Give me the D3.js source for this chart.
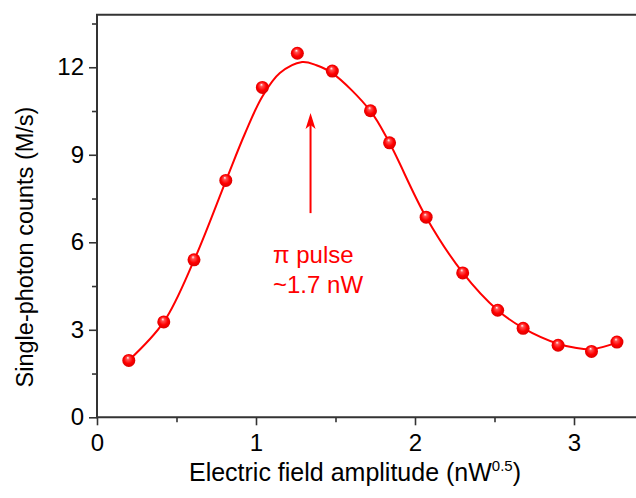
<!DOCTYPE html>
<html>
<head>
<meta charset="utf-8">
<script src="https://cdn.jsdelivr.net/npm/d3@7"></script>
<style>
  body { margin: 0; background: #fff; }
  svg { display: block; font-family: "Liberation Sans", Arial, sans-serif; }
</style>
</head>
<body>
<div id="vis"></div>
<script>
// measured single-photon counts vs electric field amplitude
var fieldX = [0.20, 0.42, 0.61, 0.81, 1.04, 1.26, 1.48, 1.72, 1.84, 2.07, 2.30, 2.52, 2.68, 2.90, 3.11, 3.27];
var countsY = [1.95, 3.27, 5.40, 8.12, 11.31, 12.48, 11.87, 10.51, 9.41, 6.86, 4.95, 3.67, 3.05, 2.47, 2.26, 2.58];

// fitted curve
var fitX = [0.20, 0.42, 0.61, 0.81, 0.93, 1.04, 1.15, 1.29, 1.38, 1.48, 1.72, 1.84, 2.07, 2.30, 2.52, 2.68, 2.90, 3.00, 3.11, 3.27];
var fitY = [1.95, 3.27, 5.38, 8.10, 9.72, 11.00, 11.80, 12.18, 12.07, 11.80, 10.50, 9.40, 6.86, 4.96, 3.67, 3.06, 2.52, 2.39, 2.33, 2.56];

var yTicks = [0, 3, 6, 9, 12];
var yMinor = [1.5, 4.5, 7.5, 10.5, 13.5];
var xTicks = [0, 1, 2, 3];
var xMinor = [0.5, 1.5, 2.5];

var width = 636, height = 498;
var svg = d3.select("#vis").append("svg")
  .attr("width", width)
  .attr("height", height);

var x = d3.scaleLinear().domain([0, 3.45]).range([97, 97 + 3.45 * 159]);
var y = d3.scaleLinear().domain([0, 13.8]).range([417.3, 417.3 - 13.8 * 29.17]);

var defs = svg.append("defs");
var grad = defs.append("radialGradient")
  .attr("id", "ball")
  .attr("cx", "50%").attr("cy", "50%").attr("r", "55%")
  .attr("fx", "42%").attr("fy", "28%");
grad.append("stop").attr("offset", "0%").attr("stop-color", "#ffffff");
grad.append("stop").attr("offset", "22%").attr("stop-color", "#ff5050");
grad.append("stop").attr("offset", "60%").attr("stop-color", "#ff0000");
grad.append("stop").attr("offset", "100%").attr("stop-color", "#d40000");

var axisColor = "#333";

// axes
var yAxis = svg.append("g")
  .attr("transform", "translate(" + x(0) + ",0)")
  .call(d3.axisLeft(y).tickValues(yTicks).tickSize(8).tickSizeOuter(0).tickPadding(5));
var yAxisMinor = svg.append("g")
  .attr("transform", "translate(" + x(0) + ",0)")
  .call(d3.axisLeft(y).tickValues(yMinor).tickSize(5).tickSizeOuter(0).tickFormat(""));
var xAxis = svg.append("g")
  .attr("transform", "translate(0," + y(0) + ")")
  .call(d3.axisBottom(x).tickValues(xTicks).tickFormat(d3.format("d"))
    .tickSize(8).tickSizeOuter(0).tickPadding(9));
var xAxisMinor = svg.append("g")
  .attr("transform", "translate(0," + y(0) + ")")
  .call(d3.axisBottom(x).tickValues(xMinor).tickSize(5).tickSizeOuter(0).tickFormat(""));

[yAxis, yAxisMinor, xAxis, xAxisMinor].forEach(function(g) {
  g.select(".domain").remove();
  g.selectAll(".tick line").attr("stroke", axisColor).attr("stroke-width", 1.6);
  g.selectAll(".tick text")
    .attr("fill", "#000")
    .style("font-size", "24px")
    .style("font-family", "'Liberation Sans', Arial, sans-serif");
});

// frame: left, top, bottom
svg.append("path")
  .attr("d", "M" + x(3.45) + "," + y(13.8) + "H" + x(0) + "V" + y(0) + "H" + x(3.45))
  .attr("fill", "none")
  .attr("stroke", axisColor)
  .attr("stroke-width", 2);

// fit line
var line = d3.line()
  .x(function(d) { return x(d[0]); })
  .y(function(d) { return y(d[1]); })
  .curve(d3.curveCatmullRom.alpha(0.5));

svg.append("path")
  .datum(d3.zip(fitX, fitY))
  .attr("d", line)
  .attr("fill", "none")
  .attr("stroke", "#ff0000")
  .attr("stroke-width", 2);

// data points
svg.append("g").selectAll("circle")
  .data(d3.zip(fieldX, countsY))
  .join("circle")
  .attr("cx", function(d) { return x(d[0]); })
  .attr("cy", function(d) { return y(d[1]); })
  .attr("r", 6.5)
  .attr("fill", "url(#ball)");

// annotation arrow
var ax = x(1.343), aTop = y(10.43), aBottom = y(7.0);
svg.append("line")
  .attr("x1", ax).attr("x2", ax)
  .attr("y1", aBottom).attr("y2", aTop + 8)
  .attr("stroke", "#ff0000")
  .attr("stroke-width", 2);
svg.append("path")
  .attr("d", "M" + ax + "," + aTop + "L" + (ax - 5) + "," + (aTop + 16) +
    "L" + ax + "," + (aTop + 12) + "L" + (ax + 5) + "," + (aTop + 16) + "Z")
  .attr("fill", "#ff0000");

var note = svg.append("text")
  .attr("fill", "#ff0000")
  .style("font-size", "24px");
note.append("tspan").attr("x", x(1.107)).attr("y", y(5.29)).text("\u03c0 pulse");
note.append("tspan").attr("x", x(1.107)).attr("y", y(4.26)).text("~1.7 nW");

// axis titles
var xTitle = svg.append("text")
  .attr("x", 355)
  .attr("y", 481)
  .attr("text-anchor", "middle")
  .style("font-size", "25px");
xTitle.append("tspan").text("Electric field amplitude (nW");
xTitle.append("tspan").attr("dy", -10).style("font-size", "15px").text("0.5");
xTitle.append("tspan").attr("dy", 10).text(")");

svg.append("text")
  .attr("transform", "translate(33,247) rotate(-90)")
  .attr("text-anchor", "middle")
  .style("font-size", "23.5px")
  .text("Single-photon counts (M/s)");
</script>
</body>
</html>
